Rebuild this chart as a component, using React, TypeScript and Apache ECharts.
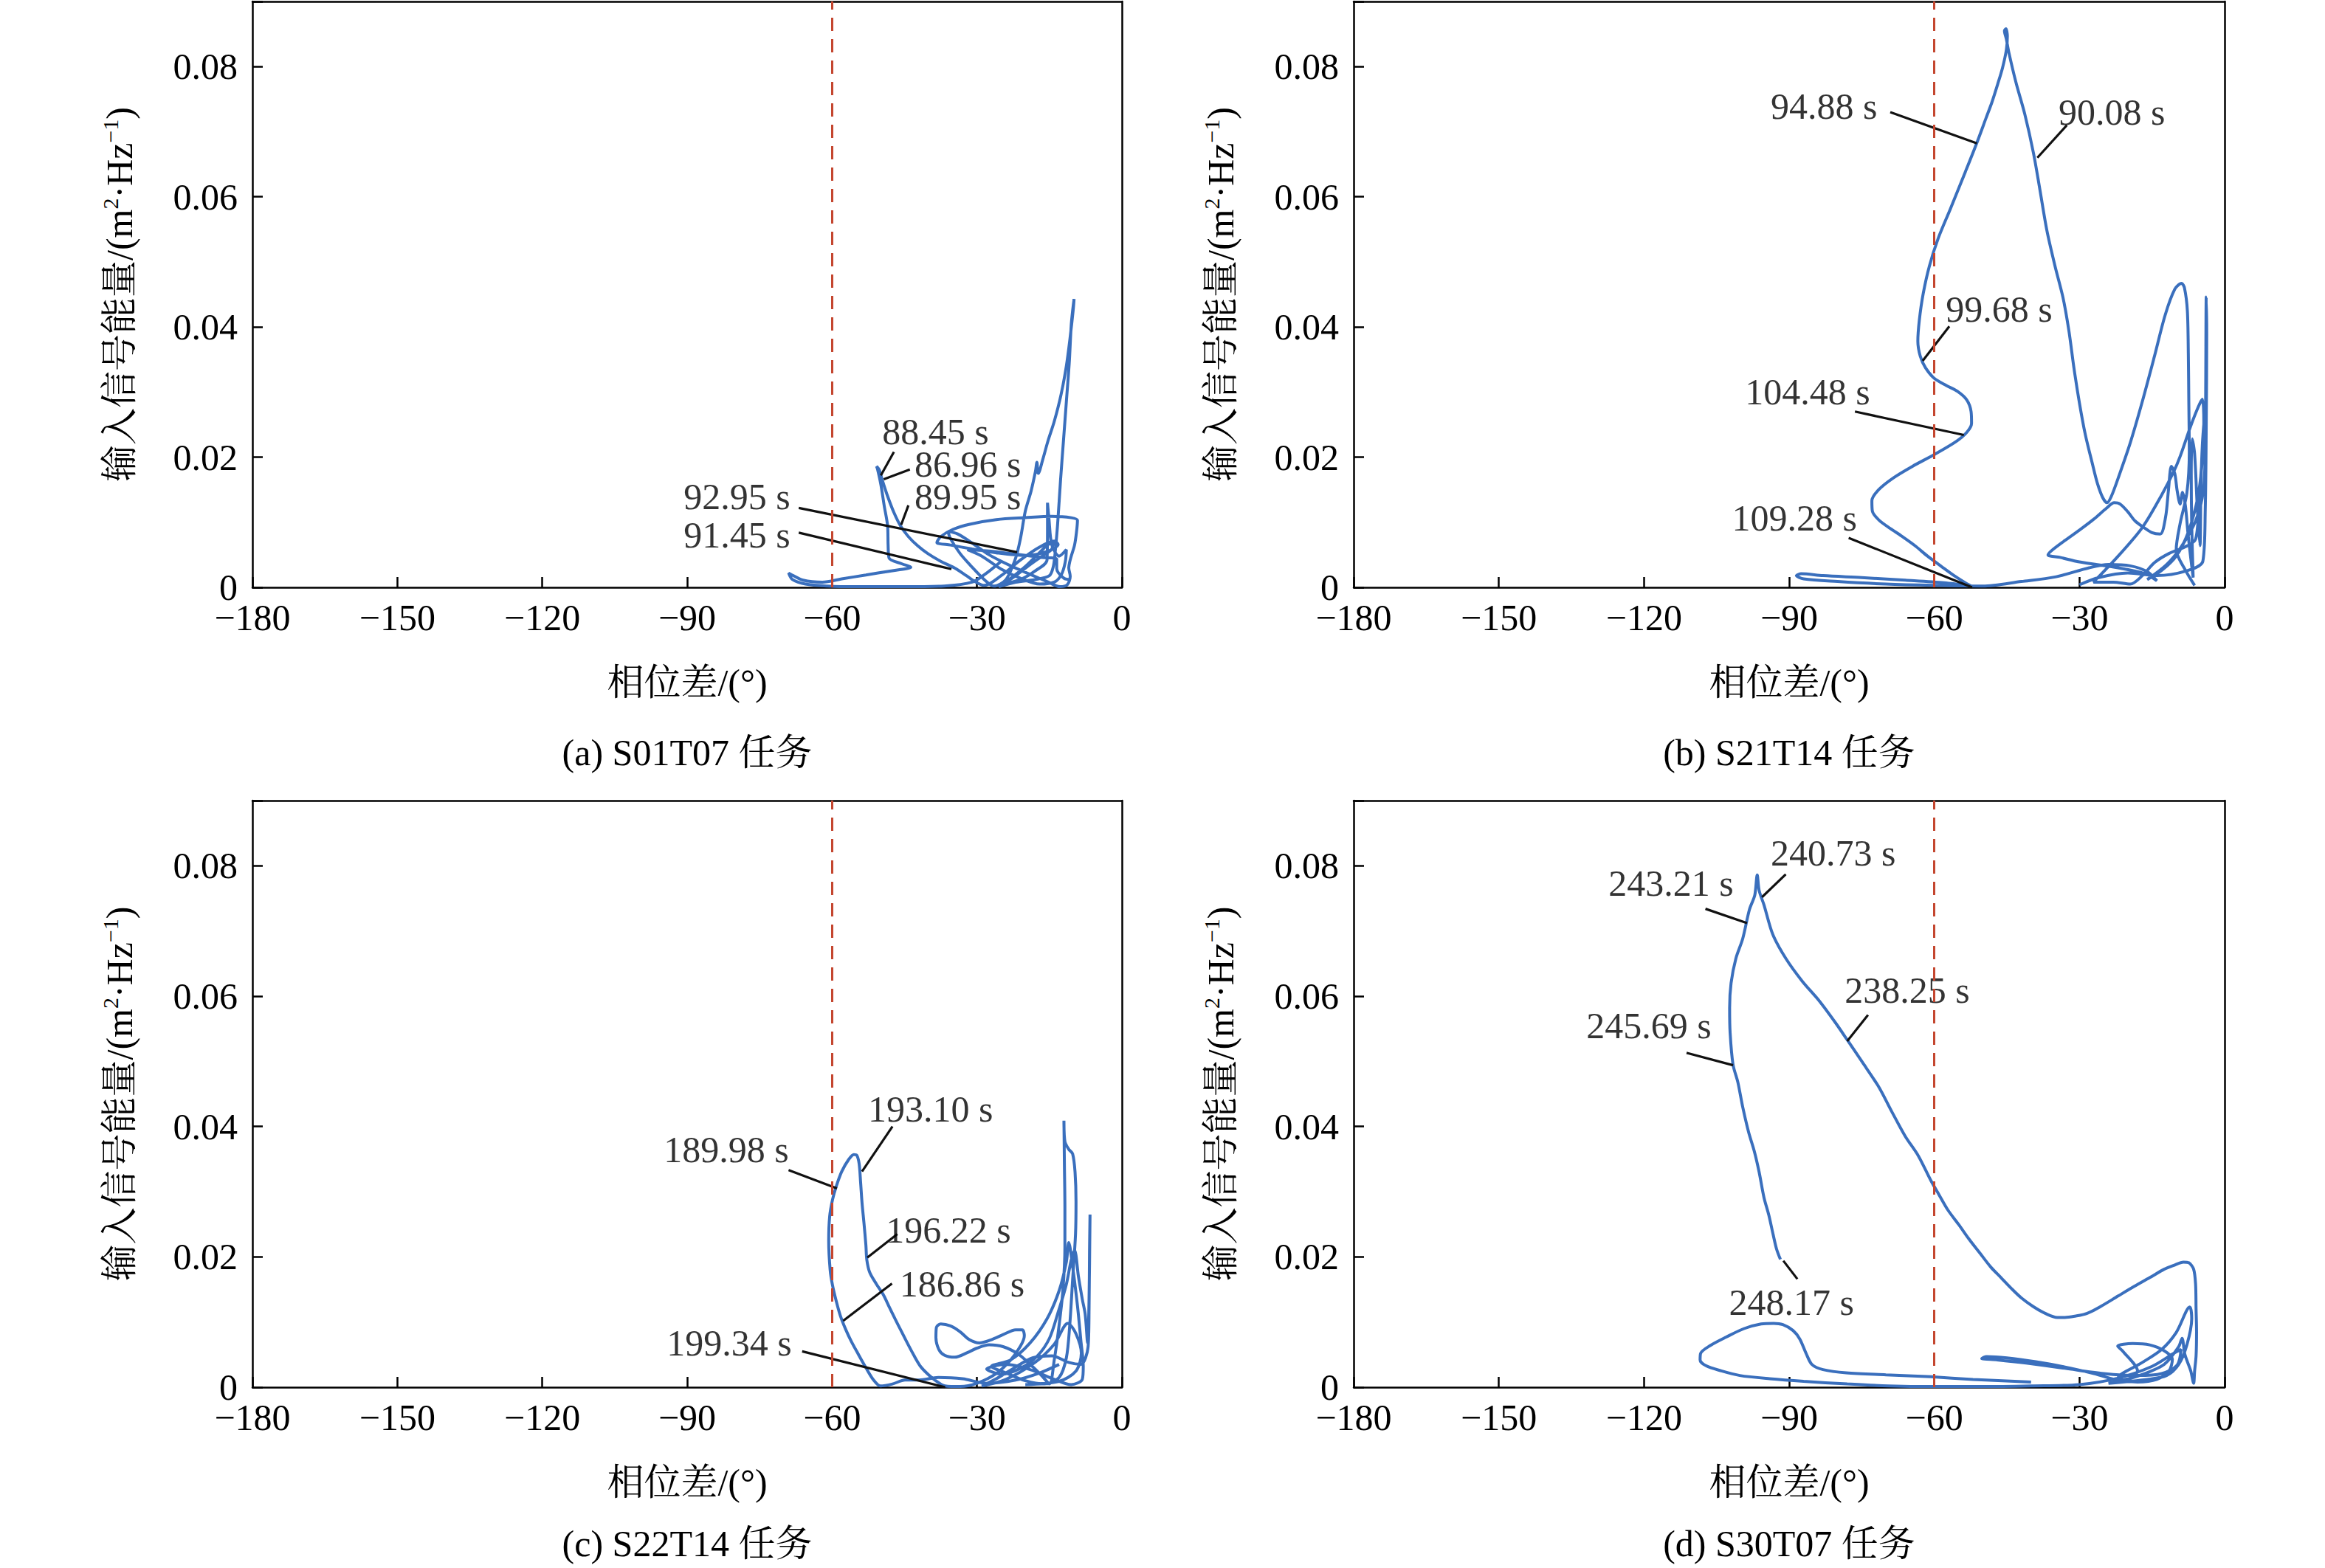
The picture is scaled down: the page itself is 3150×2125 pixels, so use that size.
import { useEffect, useRef } from "react";
import * as echarts from "echarts";

type Pt = [number, number];

const FONT =
  "'Liberation Serif', 'Times New Roman', 'Noto Serif CJK SC', 'Noto Sans CJK SC', serif";
const BLUE = "#3a6fbd";
const RED = "#c4462f";
const INK = "#000";

// axis ticks
const xTicks = { min: -180, max: 0, interval: 30 };
const yTicks = { min: 0, max: 0.09, interval: 0.02 };

const subtitles = [
  "(a) S01T07 任务",
  "(b) S21T14 任务",
  "(c) S22T14 任务",
  "(d) S30T07 任务",
];

const thresholdPhase = -60;

// (a) S01T07
const curveA: Pt[] = [
  [-25, 0.004], [-28, 0.0022], [-31, 0.0008], [-36.8, 0.0002], [-45, 0.0001], [-55, 0.0001],
  [-61, 0.0002], [-65.5, 0.0005], [-68.2, 0.0012], [-69, 0.0022], [-68.3, 0.0019], [-66, 0.0011],
  [-62, 0.0008], [-58, 0.0013], [-53, 0.0019], [-48, 0.0025], [-44.5, 0.0029], [-43.7, 0.0031],
  [-45.5, 0.0036], [-48.2, 0.0045], [-48.4, 0.0065], [-48.5, 0.0094], [-49.2, 0.0125], [-49.9, 0.0158],
  [-50.6, 0.0182], [-50.8, 0.0186], [-50.2, 0.018], [-49.7, 0.0167], [-48.6, 0.0142], [-47.2, 0.0115],
  [-45.8, 0.0094], [-44.2, 0.0078], [-42.3, 0.0064], [-40.2, 0.0052], [-37.5, 0.004], [-34.7, 0.003],
  [-32.2, 0.0018], [-30.2, 0.0008], [-28.5, 0.0003],
  [-25, 0.0018], [-21, 0.0042], [-17, 0.0062], [-14, 0.0071], [-13.2, 0.0066], [-15.5, 0.0055],
  [-20, 0.0049], [-26, 0.0053], [-31, 0.0059], [-35.5, 0.0065], [-38.3, 0.0069], [-37.5, 0.0078],
  [-35, 0.0089], [-31.5, 0.0097], [-26, 0.0104], [-20, 0.0107], [-14.5, 0.0109], [-10.5, 0.0107],
  [-9.2, 0.0103], [-9.4, 0.0085], [-9.8, 0.0065], [-10.6, 0.0045], [-11, 0.003], [-10.7, 0.0017],
  [-11.3, 0.0004], [-12.8, 0.0001], [-15.5, 0.0009], [-19, 0.002], [-23, 0.0033], [-27.5, 0.005],
  [-31, 0.0068], [-34, 0.0082], [-36, 0.0086], [-35.5, 0.0075], [-33.5, 0.0052], [-31, 0.0031],
  [-28.5, 0.0012], [-26.5, 0.0002],
  [-24, 0.0012], [-22, 0.0045], [-21, 0.0075], [-20, 0.0117], [-18.8, 0.0148], [-17.9, 0.0178],
  [-17.6, 0.0192], [-17.3, 0.0175], [-16.4, 0.0196], [-15.3, 0.0225], [-14, 0.0255], [-12.6, 0.0296],
  [-11.5, 0.034], [-10.7, 0.0385], [-10.1, 0.0425], [-9.9, 0.0443], [-10.2, 0.0425], [-10.5, 0.0402],
  [-10.9, 0.0345], [-11.5, 0.0285], [-12.1, 0.0225], [-12.7, 0.0165], [-13.3, 0.0098], [-13.8, 0.0055],
  [-14.2, 0.0032], [-15, 0.0018],
  [-18, 0.0012], [-22, 0.0008], [-25.5, 0.0001], [-23, 0.0014], [-20, 0.0032], [-17.5, 0.005],
  [-15.4, 0.0065], [-14.2, 0.0069], [-14.6, 0.0058], [-16.5, 0.0048], [-19, 0.0035], [-22, 0.0018],
  [-24.5, 0.0005], [-21, 0.0012], [-18, 0.0025], [-15.5, 0.0042], [-15.4, 0.0095], [-15.4, 0.013],
  [-15.1, 0.0105], [-14.5, 0.0065], [-13, 0.0048], [-11.5, 0.0058], [-11.7, 0.004], [-12.5, 0.002],
  [-14, 0.0008], [-17, 0.0005], [-21, 0.0014], [-25, 0.0028], [-29, 0.0048], [-32, 0.0058],
  [-28, 0.0056], [-22, 0.0051], [-16.5, 0.0046], [-13.5, 0.0043], [-13.5, 0.0029], [-12, 0.0014],
  [-10.6, 0.0012],
];

// (b) S21T14
const curveB: Pt[] = [
  [-6.2, 0.0003], [-8, 0.0025], [-10, 0.0058], [-9.2, 0.0098], [-7.8, 0.0145], [-7.3, 0.0208],
  [-7.4, 0.0285], [-7.5, 0.0359], [-7.7, 0.0425], [-8.3, 0.046], [-8.9, 0.0467], [-10.3, 0.0458],
  [-12.3, 0.0418], [-14.5, 0.0355], [-17.1, 0.0283], [-19.5, 0.0222], [-21.8, 0.0172], [-23.4, 0.014],
  [-24.3, 0.013], [-25.2, 0.0138], [-26.3, 0.016], [-27.3, 0.0189], [-28.8, 0.0235], [-30, 0.0283],
  [-31.1, 0.0335], [-32.2, 0.0395], [-33.4, 0.0445], [-35, 0.0492], [-36.7, 0.0547], [-38.2, 0.0612],
  [-39.5, 0.0667], [-41.3, 0.0727], [-43.1, 0.0775], [-44.6, 0.0822], [-45.1, 0.0842], [-45.5, 0.0855],
  [-45.2, 0.0858], [-44.9, 0.0847], [-45.1, 0.0826], [-45.9, 0.0798], [-46.9, 0.0773], [-48.1, 0.0745],
  [-49.3, 0.0721], [-51.2, 0.0683], [-53.6, 0.0638], [-56.7, 0.0581], [-59.2, 0.0536], [-61, 0.0494],
  [-62.3, 0.0451], [-63.1, 0.041], [-63.4, 0.0378], [-62.9, 0.0355], [-61.8, 0.0337], [-60, 0.0321],
  [-57.5, 0.031], [-55.2, 0.0301], [-53.3, 0.0288], [-52.4, 0.027], [-52.3, 0.0252], [-53.3, 0.0238],
  [-55.5, 0.0224], [-60, 0.0204], [-64.5, 0.0186], [-68.5, 0.0168], [-71.5, 0.015], [-72.9, 0.0133],
  [-72.8, 0.0117], [-71.4, 0.0103], [-69, 0.009], [-66.8, 0.0079], [-64, 0.0064], [-61.4, 0.0048],
  [-58.5, 0.0032], [-55.9, 0.0018], [-53.8, 0.0008], [-52.4, 0.0002],
  [-58, 0.0007], [-66, 0.0011], [-75, 0.0015], [-83, 0.0018], [-87.5, 0.0021], [-88.5, 0.0018],
  [-87, 0.0013], [-80, 0.0009], [-70, 0.0005], [-60, 0.0003], [-50, 0.0002],
  [-42, 0.0009], [-35, 0.0016], [-28, 0.003], [-24, 0.0035], [-19.5, 0.0033], [-16, 0.0024],
  [-14, 0.001], [-16.5, 0.0021], [-22, 0.003], [-30, 0.0039], [-34, 0.0046], [-36.5, 0.005],
  [-35.5, 0.0058], [-33, 0.0072], [-30, 0.0088], [-27, 0.0105], [-24.5, 0.0121], [-22.8, 0.013],
  [-21.6, 0.0128], [-20, 0.0116], [-18.5, 0.0102], [-16.9, 0.0093], [-15, 0.0084], [-13.3, 0.0082],
  [-12.2, 0.0108], [-11.6, 0.015], [-11, 0.0186], [-10.3, 0.0175], [-9.8, 0.0148], [-9.2, 0.0128],
  [-8.7, 0.0146], [-8.1, 0.0125], [-7.6, 0.0085], [-7, 0.0045], [-6.5, 0.0015],
  [-6.8, 0.0095], [-6.9, 0.0175], [-6.7, 0.0228], [-6.2, 0.0205], [-5.6, 0.0115], [-5.1, 0.0064],
  [-4.9, 0.0155], [-4.6, 0.0219], [-4.2, 0.026], [-4.4, 0.0225], [-5.3, 0.0135], [-6, 0.0074],
  [-8.2, 0.0062], [-11.5, 0.0052], [-14.5, 0.0038], [-17, 0.0018], [-19.5, 0.0005],
  [-23, 0.0008], [-27.1, 0.0008], [-22, 0.0048], [-17, 0.0092], [-13, 0.0142], [-10.5, 0.0178],
  [-9.2, 0.0201], [-7, 0.0248], [-5.4, 0.0278], [-4.6, 0.0289], [-4.3, 0.0255], [-4.5, 0.0205],
  [-5.5, 0.014], [-7.5, 0.0085], [-10, 0.0048], [-13, 0.0026], [-16, 0.0012], [-12, 0.0035],
  [-9, 0.0062], [-6, 0.0102], [-4.4, 0.0148], [-4, 0.0215], [-3.8, 0.0446], [-3.7, 0.039],
  [-3.8, 0.025], [-4, 0.012], [-4.5, 0.004], [-8, 0.0025], [-14, 0.0018], [-20, 0.0022],
  [-26, 0.0015], [-30, 0.0004],
];

// (c) S22T14
const curveC: Pt[] = [
  [-13, 0.0035], [-17, 0.0022], [-22, 0.0011], [-28, 0.0006], [-33, 0.0013], [-38, 0.0015],
  [-42, 0.0011], [-44.9, 0.0011], [-47.5, 0.0005], [-50, 0.0002], [-51.5, 0.0012], [-53, 0.003],
  [-54.6, 0.0051], [-56, 0.007], [-57.2, 0.0089], [-58.3, 0.011], [-59.1, 0.0131], [-59.9, 0.0156],
  [-60.4, 0.018], [-60.7, 0.0225], [-60.5, 0.0262], [-59.9, 0.0288], [-59.1, 0.0309], [-58, 0.0331],
  [-56.6, 0.0349], [-55.5, 0.0357], [-54.9, 0.0356], [-54.4, 0.0343], [-54.1, 0.0315], [-53.8, 0.0283],
  [-53.4, 0.0252], [-53, 0.0218], [-52.8, 0.0195], [-52.2, 0.0176], [-50.8, 0.0158], [-49.4, 0.0142],
  [-48.1, 0.0122], [-46.9, 0.0104], [-45.6, 0.0085], [-44.3, 0.0066], [-43, 0.0048], [-41.7, 0.0032],
  [-40.3, 0.0021], [-38.7, 0.0011], [-36.6, 0.0002], [-33.5, 0.0001], [-30, 0.0006], [-26, 0.0021],
  [-23, 0.0042], [-21, 0.0063], [-20.2, 0.0079], [-20.6, 0.0088], [-22, 0.0088], [-24.5, 0.0081],
  [-27, 0.0073], [-29.5, 0.0068], [-31.6, 0.0073], [-33.5, 0.0085], [-35.5, 0.0094], [-37.5, 0.0097],
  [-38.4, 0.0092], [-38.5, 0.0076], [-37.9, 0.0058], [-36.7, 0.0049], [-34.6, 0.0046], [-32, 0.0053],
  [-30, 0.006], [-27.5, 0.0065], [-24.5, 0.0062], [-21.5, 0.0051], [-19, 0.0035], [-16.5, 0.0017],
  [-15, 0.0005],
  [-14, 0.0042], [-13, 0.0095], [-12.2, 0.015], [-11.8, 0.0215], [-11.8, 0.0276], [-11.9, 0.034],
  [-12, 0.0409], [-11.8, 0.0377], [-11, 0.0365], [-10.2, 0.0358], [-9.7, 0.033], [-9.5, 0.0285],
  [-9.6, 0.0235], [-10.2, 0.0165], [-10.8, 0.0095], [-11.5, 0.0045], [-13, 0.0015], [-16, 0.0005],
  [-20, 0.001], [-24, 0.0022], [-27, 0.0032], [-23, 0.0042], [-19, 0.0068], [-15.5, 0.0105],
  [-13, 0.0148], [-11.5, 0.0192], [-11, 0.0222], [-10.2, 0.0185], [-9.2, 0.0125], [-8.5, 0.0072],
  [-8, 0.0032], [-8.2, 0.0012], [-10.5, 0.0004], [-14, 0.0012], [-19, 0.0027], [-24, 0.0035],
  [-28, 0.0028], [-25, 0.002], [-21, 0.0029], [-17.5, 0.0048], [-15, 0.0075], [-13.2, 0.0115],
  [-11.5, 0.0158], [-10.5, 0.0195], [-9.8, 0.021], [-9, 0.017], [-8.2, 0.0135], [-7.6, 0.0112],
  [-7.1, 0.0068], [-6.8, 0.0135], [-6.6, 0.0265], [-6.7, 0.021], [-6.8, 0.012], [-7, 0.0062],
  [-8.5, 0.0035], [-11, 0.0038], [-14.5, 0.0048], [-18.5, 0.0045], [-22, 0.0031], [-26, 0.0013],
  [-29, 0.0002], [-24, 0.0012], [-18, 0.0038], [-14, 0.0066], [-11.2, 0.0098], [-9.5, 0.0082],
  [-8.4, 0.0052], [-9.5, 0.0025], [-13, 0.0009], [-20, 0.0004],
];

// (d) S30T07
const curveD: Pt[] = [
  [-40, 0.0008], [-52, 0.0012], [-60.7, 0.0016], [-70, 0.0019], [-78.2, 0.0022], [-83, 0.0027],
  [-85.3, 0.0035], [-86.5, 0.0052], [-87.8, 0.0074], [-89.2, 0.0087], [-91.3, 0.0096], [-93.2, 0.0098],
  [-95.8, 0.0097], [-99.3, 0.009], [-103, 0.0077], [-106.3, 0.0064], [-108.3, 0.0052], [-108.4, 0.0042],
  [-107.2, 0.0033], [-104, 0.0025], [-100.2, 0.0018], [-94, 0.0013], [-87, 0.0009], [-78, 0.0005],
  [-69.5, 0.0002], [-60, 0.0001], [-50, 0.0001], [-40, 0.0002], [-30, 0.0004],
  [-22, 0.0014], [-15, 0.0032], [-10.5, 0.0052], [-9, 0.0058], [-9.8, 0.0034], [-13, 0.0021],
  [-18, 0.0018], [-25, 0.0021], [-33, 0.0029], [-41, 0.0037], [-47, 0.0042], [-50.2, 0.0044],
  [-49.2, 0.0047], [-45, 0.0045], [-39, 0.0039], [-33, 0.0031], [-27, 0.0021], [-21, 0.001],
  [-18, 0.0025], [-21, 0.0055], [-22.1, 0.0063], [-19, 0.0067], [-15.5, 0.0065], [-12.5, 0.0056],
  [-10.8, 0.0043], [-11.5, 0.0025], [-14, 0.0012], [-18, 0.0008], [-22, 0.0015], [-17, 0.0038],
  [-13, 0.0058], [-10, 0.0084], [-7.2, 0.0123], [-6.8, 0.0105], [-7.8, 0.0065], [-9.5, 0.0035],
  [-12, 0.0018], [-16, 0.0012], [-24, 0.0006], [-18, 0.0017], [-12.5, 0.0035], [-9.5, 0.0062],
  [-8.8, 0.0075], [-8.2, 0.005], [-7, 0.0025], [-6.4, 0.0006],
  [-6.2, 0.0025], [-5.9, 0.0048], [-5.8, 0.0085], [-5.9, 0.012], [-6, 0.0158], [-6.4, 0.0181],
  [-7.4, 0.0191], [-8.5, 0.0192], [-10.5, 0.0187], [-12.5, 0.0181], [-15.5, 0.0168], [-18.6, 0.0155],
  [-22, 0.014], [-25.6, 0.0124], [-28.5, 0.0113], [-30.9, 0.0109], [-33, 0.0107], [-34.6, 0.0107],
  [-37, 0.0113], [-39.6, 0.0124], [-42, 0.0137], [-44, 0.0151], [-46.2, 0.0168], [-48.4, 0.0185],
  [-50.6, 0.0206], [-52.8, 0.0227], [-55, 0.025], [-57.2, 0.0272], [-59, 0.0295], [-60.7, 0.0317],
  [-63.3, 0.0355], [-66, 0.0385], [-68.8, 0.0423], [-71.5, 0.0461], [-74.9, 0.0499], [-78, 0.0533],
  [-80.4, 0.0559], [-83.8, 0.0593], [-87.3, 0.0623], [-90.7, 0.0658], [-93.4, 0.0695], [-95.2, 0.074],
  [-96.2, 0.0762], [-96.6, 0.0786], [-97.1, 0.0755], [-98.2, 0.0733], [-99.6, 0.0688], [-101, 0.0658],
  [-102, 0.062], [-102.3, 0.0582], [-102.2, 0.0544], [-101.6, 0.0495], [-100.6, 0.0468], [-99.6, 0.043],
  [-98.4, 0.0392], [-97.2, 0.0362], [-96.2, 0.033], [-95.2, 0.0291], [-94.2, 0.0264], [-93.3, 0.0234],
  [-92.6, 0.0212], [-91.8, 0.0196],
];

const curves = [curveA, curveB, curveC, curveD];

// time labels: [phase, energy, text] at the label centre
const labelsA: [number, number, string][] = [
  [-38.6, 0.0239, "88.45 s"],
  [-31.9, 0.0189, "86.96 s"],
  [-31.9, 0.0139, "89.95 s"],
  [-79.7, 0.0139, "92.95 s"],
  [-79.7, 0.008, "91.45 s"],
];
const labelsB: [number, number, string][] = [
  [-82.8, 0.0739, "94.88 s"],
  [-23.3, 0.073, "90.08 s"],
  [-46.6, 0.0427, "99.68 s"],
  [-86.2, 0.03, "104.48 s"],
  [-88.9, 0.0107, "109.28 s"],
];
const labelsC: [number, number, string][] = [
  [-39.6, 0.0427, "193.10 s"],
  [-81.9, 0.0364, "189.98 s"],
  [-35.9, 0.0241, "196.22 s"],
  [-33.1, 0.0159, "186.86 s"],
  [-81.3, 0.0068, "199.34 s"],
];
const labelsD: [number, number, string][] = [
  [-80.9, 0.082, "240.73 s"],
  [-114.4, 0.0773, "243.21 s"],
  [-65.6, 0.0609, "238.25 s"],
  [-119, 0.0555, "245.69 s"],
  [-89.5, 0.013, "248.17 s"],
];
const labels = [labelsA, labelsB, labelsC, labelsD];

// leader lines: from label to the curve
const leadersA: [Pt, Pt][] = [
  [[-47.2, 0.0208], [-49.9, 0.0172]],
  [[-43.9, 0.0181], [-49.3, 0.0166]],
  [[-44.2, 0.0126], [-45.7, 0.0096]],
  [[-66.9, 0.0122], [-21.7, 0.0054]],
  [[-66.9, 0.0084], [-35.3, 0.0028]],
];
const leadersB: [Pt, Pt][] = [
  [[-69.1, 0.073], [-51.2, 0.0682]],
  [[-32.6, 0.071], [-38.7, 0.066]],
  [[-56.9, 0.0401], [-62.4, 0.0348]],
  [[-76.4, 0.027], [-53.9, 0.0234]],
  [[-77.7, 0.0076], [-52.2, 0.0]],
];
const leadersC: [Pt, Pt][] = [
  [[-47.5, 0.04], [-53.8, 0.0331]],
  [[-69, 0.0333], [-59, 0.0305]],
  [[-46.5, 0.0235], [-52.7, 0.0199]],
  [[-47.6, 0.0159], [-57.7, 0.0102]],
  [[-66.2, 0.0055], [-36.6, 0.0]],
];
const leadersD: [Pt, Pt][] = [
  [[-90.7, 0.0787], [-95.6, 0.0752]],
  [[-107.3, 0.0734], [-98.7, 0.0712]],
  [[-73.7, 0.0571], [-78, 0.0531]],
  [[-111.2, 0.0513], [-101.6, 0.0494]],
  [[-88.3, 0.0166], [-91.2, 0.0194]],
];
const leaders = [leadersA, leadersB, leadersC, leadersD];

const GRID_LEFT = [342, 1834, 342, 1834];
const GRID_TOP = [2, 2, 1085, 1085];
const GRID_W = [1178, 1180, 1178, 1180];
const GRID_H = [794, 794, 795, 795];
const SUBTITLE_Y = [1020, 1020, 2092, 2092];

const fmtX = (v: number) => (v < 0 ? "\u2212" + Math.abs(v) : String(v));
const fmtY = (v: number) => {
  if (Math.abs(v - yTicks.max) < 1e-9) return "";
  return v === 0 ? "0" : v.toFixed(2);
};

const App = () => {
  const chartRef = useRef<HTMLDivElement>(null);

  useEffect(() => {
    document.body.style.margin = "0";
    document.body.style.overflow = "hidden";
    document.documentElement.style.overflow = "hidden";
    if (!chartRef.current) return;
    const chart = echarts.init(chartRef.current, undefined, { renderer: "svg" });

    const axisLine = { onZero: false, lineStyle: { color: "#000", width: 2.5 } };
    const axisTick = { inside: true, length: 14, lineStyle: { color: "#000", width: 2.5 } };
    const labelStyle = { fontFamily: FONT, fontSize: 50, color: INK };
    const frameAxis = {
      axisLine: { onZero: false, lineStyle: { color: "#000", width: 2.5 } },
      axisTick: { show: false },
      axisLabel: { show: false },
      splitLine: { show: false },
    };

    const xMain = GRID_LEFT.map((_, i) => ({
      type: "value",
      gridIndex: i,
      position: "bottom",
      min: xTicks.min,
      max: xTicks.max,
      interval: xTicks.interval,
      name: "相位差/(°)",
      nameLocation: "middle",
      nameGap: 104,
      nameTextStyle: labelStyle,
      axisLine,
      axisTick,
      splitLine: { show: false },
      axisLabel: { ...labelStyle, margin: 16, formatter: fmtX },
    }));
    const xTop = GRID_LEFT.map((_, i) => ({
      type: "value",
      gridIndex: i,
      position: "top",
      min: xTicks.min,
      max: xTicks.max,
      ...frameAxis,
    }));
    const yMain = GRID_LEFT.map((_, i) => ({
      type: "value",
      gridIndex: i,
      position: "left",
      min: yTicks.min,
      max: yTicks.max,
      interval: yTicks.interval,
      name: "{t|输入信号能量/(m}{s|2}{t|·Hz}{s|\u22121}{t|)}",
      nameLocation: "middle",
      nameGap: 152,
      nameTextStyle: {
        ...labelStyle,
        rich: {
          t: { fontFamily: FONT, fontSize: 50, color: INK, lineHeight: 56 },
          s: { fontFamily: FONT, fontSize: 30, color: INK, verticalAlign: "top", lineHeight: 56 },
        },
      },
      axisLine,
      axisTick,
      splitLine: { show: false },
      axisLabel: { ...labelStyle, margin: 20, formatter: fmtY },
    }));
    const yRight = GRID_LEFT.map((_, i) => ({
      type: "value",
      gridIndex: i,
      position: "right",
      min: yTicks.min,
      max: yTicks.max,
      ...frameAxis,
    }));

    const option: echarts.EChartsOption = {
      animation: false,
      backgroundColor: "#fff",
      grid: GRID_LEFT.map((left, i) => ({
        left,
        top: GRID_TOP[i],
        width: GRID_W[i],
        height: GRID_H[i],
        show: false,
        containLabel: false,
        outerBoundsMode: "none",
      })) as any,
      xAxis: [...xMain, ...xTop] as any,
      yAxis: [...yMain, ...yRight] as any,
      graphic: subtitles.map((text, i) => ({
        type: "text",
        x: GRID_LEFT[i] + GRID_W[i] / 2,
        y: SUBTITLE_Y[i],
        style: {
          text,
          fontFamily: FONT,
          fontSize: 50,
          fill: INK,
          align: "center",
          verticalAlign: "middle",
        },
      })),
      series: curves.flatMap((data, i) => [
        {
          type: "line",
          xAxisIndex: i,
          yAxisIndex: i,
          data,
          showSymbol: false,
          smooth: 0.3,
          z: 2,
          lineStyle: { color: BLUE, width: 4 },
          markLine: {
            silent: true,
            symbol: ["none", "none"],
            label: { show: false },
            lineStyle: { color: RED, width: 3, type: [18, 11] },
            data: [{ xAxis: thresholdPhase }],
          },
        },
        {
          type: "lines",
          coordinateSystem: "cartesian2d",
          xAxisIndex: i,
          yAxisIndex: i,
          z: 3,
          lineStyle: { color: "#111", width: 3.2, opacity: 1 },
          data: leaders[i].map((coords) => ({ coords })),
        },
        {
          type: "scatter",
          xAxisIndex: i,
          yAxisIndex: i,
          symbolSize: 0,
          z: 4,
          data: labels[i],
          label: {
            show: true,
            position: [0, 0],
            align: "center",
            verticalAlign: "middle",
            formatter: (p: any) => p.value[2],
            ...labelStyle,
          },
        },
      ]) as any,
    };

    chart.setOption(option);
    return () => {
      chart.dispose();
    };
  }, []);

  return (
    <div
      ref={chartRef}
      style={{ position: "fixed", left: 0, top: 0, width: 3150, height: 2125, background: "#fff" }}
    />
  );
};

export default App;
